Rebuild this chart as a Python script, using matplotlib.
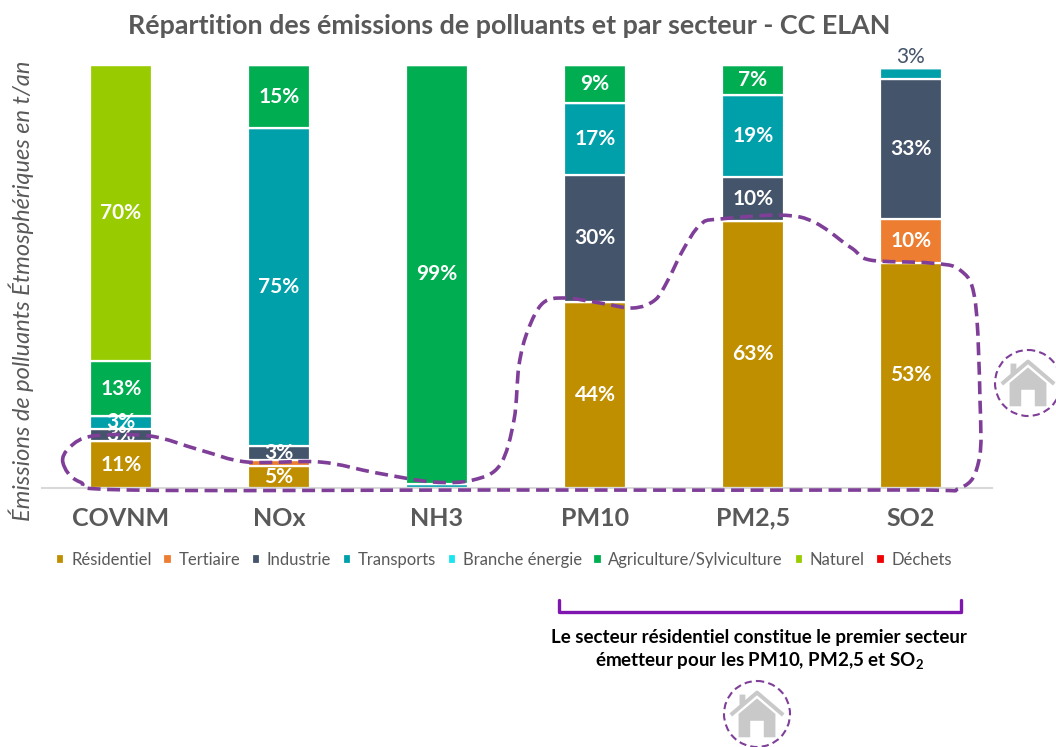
import numpy as np
import matplotlib
matplotlib.use("Agg")
import matplotlib.pyplot as plt
from matplotlib.path import Path
from matplotlib.patches import PathPatch, Circle, Polygon

plt.rcParams['font.family'] = ['Lato', 'DejaVu Sans']
plt.rcParams['mathtext.fontset'] = 'custom'
plt.rcParams['mathtext.bf'] = 'Lato:bold'

categories = ["COVNM", "NOx", "NH3", "PM10", "PM2,5", "SO2"]
sectors = ["Résidentiel", "Tertiaire", "Industrie", "Transports", "Branche énergie",
           "Agriculture/Sylviculture", "Naturel", "Déchets"]
residentiel = [11, 5.1, 0, 44, 63.2, 53.3]
tertiaire = [0, 1.5, 0, 0, 0, 10.4]
industrie = [3, 3.4, 0, 30, 10.4, 33]
transports = [3, 75, 1, 17, 19.4, 2.6]
branche = [0, 0, 0, 0, 0, 0]
agriculture = [13, 15, 99, 9, 7, 0]
naturel = [70, 0, 0, 0, 0, 0]
dechets = [0, 0, 0, 0, 0, 0]
series = [residentiel, tertiaire, industrie, transports, branche, agriculture, naturel, dechets]
colors = ["#BF8F00", "#ED7D31", "#44546A", "#00A0AA", "#19E5F0", "#00AD50", "#99CC00", "#F00000"]
min_label = 2.5

W, H = 1056, 747
fig = plt.figure(figsize=(W / 100, H / 100), dpi=100, facecolor="white")
# axes: y=0 at pixel 488, y=100 at pixel 65; category spacing 158 px, first centre 121 px
ax = fig.add_axes([42 / W, 1 - 488 / H, 950 / W, 423 / H])
ax.set_ylim(0, 100)
ax.set_xlim(-79 / 158, 5 + 81 / 158)
x = np.arange(len(categories))
bottom = np.zeros(len(categories))
for name, vals, col in zip(sectors, series, colors):
    vals = np.array(vals, dtype=float)
    ax.bar(x, vals, 0.395, bottom=bottom, color=col, edgecolor="white", linewidth=1.6, label=name)
    for xi, b, v in zip(x, bottom, vals):
        if v >= min_label:
            if v <= 3 and categories[xi] == "SO2":
                ax.text(xi, b + v + 0.2, f"{v:.0f}%", ha="center", va="bottom", color="#44546A", fontsize=15)
            else:
                ax.text(xi, b + v / 2, f"{v:.0f}%", ha="center", va="center", color="white",
                        fontsize=15, fontweight="bold")
    bottom += vals
for s in ["top", "right", "left"]:
    ax.spines[s].set_visible(False)
ax.spines["bottom"].set_color("#D9D9D9")
ax.spines["bottom"].set_linewidth(1.5)
ax.set_yticks([])
ax.set_xticks(x, categories, fontsize=18, fontweight="bold", color="#595959")
ax.tick_params(axis="x", length=0, pad=27)
for t in ax.get_xticklabels():
    t.set_va("baseline")

fig.text(509 / W, 1 - 26 / H, "Répartition des émissions de polluants et par secteur - CC ELAN",
         ha="center", va="center", fontsize=19.4, fontweight="bold", color="#595959")
fig.text(21 / W, 1 - 291 / H, "Émissions de polluants Étmosphériques en t/an", rotation=90,
         ha="center", va="center", fontsize=17, fontstyle="italic", color="#595959")

handles, labels = ax.get_legend_handles_labels()
leg = fig.legend(handles, labels, ncol=8, loc="center", bbox_to_anchor=(504 / W, 1 - 560 / H),
                 frameon=False, fontsize=12, handlelength=0.5, handleheight=0.5,
                 handletextpad=0.4, columnspacing=0.7, labelcolor="#595959", borderpad=0, borderaxespad=0)

# annotation overlay in pixel coordinates
ov = fig.add_axes([0, 0, 1, 1], facecolor="none")
ov.set_xlim(0, W)
ov.set_ylim(H, 0)
ov.axis("off")

loop = np.array([(63, 463), (70, 447), (93, 436), (150, 436), (200, 450), (247, 462), (320, 462),
                 (377, 473), (433, 482), (473, 480), (500, 465), (514, 420), (519, 365), (528, 330),
                 (543, 303), (565, 298), (600, 303), (633, 308), (655, 300), (668, 280), (683, 250),
                 (700, 225), (720, 219), (800, 217), (850, 247), (870, 260), (930, 263), (960, 270),
                 (975, 300), (980, 400), (979, 460), (960, 488), (900, 490), (500, 490), (130, 490),
                 (80, 482)], dtype=float)
n = len(loop)
verts = [loop[0]]
codes = [Path.MOVETO]
for i in range(n):
    p0, p1, p2, p3 = loop[i - 1], loop[i], loop[(i + 1) % n], loop[(i + 2) % n]
    verts += [p1 + (p2 - p0) / 6, p2 - (p3 - p1) / 6, p2]
    codes += [Path.CURVE4] * 3
ov.add_patch(PathPatch(Path(verts, codes), fill=False, edgecolor="#7F3F98", linewidth=2.6,
                       linestyle=(0, (3.6, 1.8))))

ov.plot([559, 559, 961, 961], [600, 612, 612, 600], color="#7F16B0", linewidth=2.4,
        solid_joinstyle="round", solid_capstyle="round")
ov.text(759, 637, "Le secteur résidentiel constitue le premier secteur", ha="center", va="center",
        fontsize=13.5, fontweight="bold", color="black")
ov.text(759, 661, r"émetteur pour les PM10, PM2,5 et SO$_{\mathbf{2}}$", ha="center", va="center",
        fontsize=13.5, fontweight="bold", color="black")


def house(cx, cy, r):
    s = r / 34
    g = "#C9C9C9"
    pts = lambda L: [(cx + a * s, cy + b * s) for a, b in L]
    ov.add_patch(Polygon(pts([(-19, 24), (-19, 0), (0, -16), (19, 0), (19, 24), (7, 24), (7, 7),
                              (-7, 7), (-7, 24)]), closed=True, color=g, lw=0))
    ov.plot(*zip(*pts([(-27, 1), (0, -22), (27, 1)])), color=g, lw=3 * s, solid_capstyle="butt")
    ov.add_patch(Polygon(pts([(-18, -20), (-12, -20), (-12, -13), (-18, -8)]), closed=True, color=g, lw=0))
    ov.add_patch(Circle((cx, cy), r, fill=False, edgecolor="#7F3F98", linewidth=1.5,
                        linestyle=(0, (3.5, 2)), clip_on=True))


house(1028, 383, 33)
house(757, 714, 33)

fig.savefig("out.png", dpi=100, facecolor="white")
